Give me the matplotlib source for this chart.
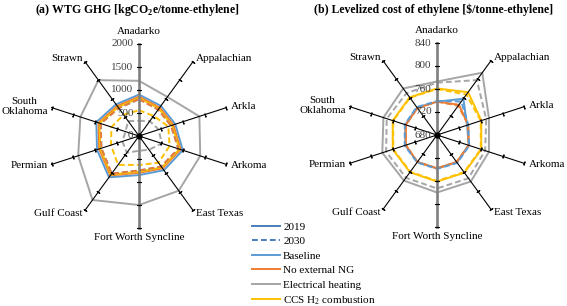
import numpy as np
import matplotlib
matplotlib.use("Agg")
import matplotlib.pyplot as plt
from matplotlib.lines import Line2D

plt.rcParams['font.family'] = ['Liberation Serif', 'DejaVu Serif']
plt.rcParams['mathtext.fontset'] = 'custom'
plt.rcParams['mathtext.rm'] = 'Liberation Serif'
plt.rcParams['mathtext.bf'] = 'Liberation Serif:bold'

regions = ['Anadarko', 'Appalachian', 'Arkla', 'Arkoma', 'East Texas',
           'Fort Worth Syncline', 'Gulf Coast', 'Permian', 'South\nOklahoma', 'Strawn']

# (a) WTG GHG, kgCO2e/tonne-ethylene
ghg_base_2019 = [900, 810, 830, 1000, 920, 850, 1110, 960, 975, 850]
ghg_nong_2019 = [855, 765, 785, 950, 870, 800, 1060, 910, 925, 805]
ghg_elec_2019 = [1200, 1050, 1380, 1400, 1470, 1500, 1720, 1390, 1340, 1500]
ghg_ccs_2019 = [825, 735, 755, 925, 845, 775, 1035, 885, 900, 775]
ghg_base_2030 = [800, 710, 730, 900, 820, 750, 1010, 860, 875, 750]
ghg_nong_2030 = [800, 710, 730, 900, 820, 750, 1010, 860, 875, 750]
ghg_elec_2030 = [330, 400, 450, 520, 370, 320, 450, 380, 310, 400]
ghg_ccs_2030 = [560, 540, 670, 700, 720, 630, 775, 640, 630, 570]

# (b) levelized cost, $/tonne-ethylene
cost_base_2019 = [738, 758, 735, 738, 739, 738, 738, 738, 738, 739]
cost_nong_2019 = [738, 745, 737, 738, 738, 738, 738, 737, 737, 738]
cost_elec_2019 = [773, 814, 775, 775, 780, 780, 778, 780, 778, 780]
cost_ccs_2019 = [761, 772, 761, 761, 761, 761, 760, 761, 761, 761]
cost_base_2030 = [739, 752, 737, 739, 740, 739, 739, 739, 739, 740]
cost_nong_2030 = [738, 743, 737, 738, 738, 738, 738, 737, 737, 738]
cost_elec_2030 = [771, 798, 770, 768, 773, 773, 772, 773, 772, 770]
cost_ccs_2030 = [760, 767, 760, 760, 760, 760, 759, 760, 760, 760]

ghg_ticks = [0, 500, 1000, 1500, 2000]
cost_ticks = [680, 720, 760, 800, 840]

c_blue = '#5B9BD5'
c_orange = '#ED7D31'
c_gray = '#A5A5A5'
c_yellow = '#FFC000'
c_year = '#4A7EBB'
dash = (3, 1.6)

fig = plt.figure(figsize=(5.67, 3.06), dpi=100)

angles = np.deg2rad(np.arange(len(regions)) * 36.0)


def radar(rect, ticks, series):
    ax = fig.add_axes(rect, projection='polar')
    ax.set_theta_zero_location('N')
    ax.set_theta_direction(-1)
    ax.set_ylim(ticks[0], ticks[-1])
    ax.grid(False)
    ax.set_xticks([])
    ax.set_yticks([])
    ax.spines['polar'].set_visible(False)
    ax.patch.set_visible(False)

    th = np.append(angles, angles[0])
    for vals, col, ls in series:
        v = np.append(vals, vals[0])
        line, = ax.plot(th, v, color=col, lw=1.4, zorder=2)
        if ls == 'dash':
            line.set_dashes(dash)

    for i, a in enumerate(angles):
        deg = np.rad2deg(a)
        if i in (0, 5):
            ax.plot([a, a], [ticks[0], ticks[-1]], color='#7F7F7F', lw=1.9,
                    zorder=4, clip_on=False)
        else:
            ax.plot([a, a], [ticks[0], ticks[-1]], color='black', lw=0.8,
                    zorder=4, clip_on=False)
        ax.plot([a] * (len(ticks) - 1), ticks[1:], ls='none',
                marker=(2, 2, 90 - deg), ms=2.8, mew=0.8, color='black',
                zorder=4, clip_on=False)

        dx, dy = np.sin(a), np.cos(a)
        ha = 'left' if dx > 0.1 else ('right' if dx < -0.1 else 'center')
        va = 'center'
        off = 3.0
        if dy > 0.9:
            va = 'bottom'
            off = 5.5
        elif dy < -0.9:
            va = 'top'
            off = 3.5
        ax.annotate(regions[i], xy=(a, ticks[-1]), xytext=(off * dx, off * dy),
                    textcoords='offset points', ha=ha, va=va, fontsize=8,
                    multialignment='center', annotation_clip=False)

    for t in ticks:
        ax.annotate(str(t), xy=(0, t), xytext=(-4, 0), textcoords='offset points',
                    ha='right', va='center', fontsize=8, color='#404040',
                    annotation_clip=False, zorder=5)
    ax.plot([0], [ticks[0]], 'o', color='black', ms=3.5, zorder=6, clip_on=False)
    return ax


ax1 = radar([47 / 567, 78 / 306, 184 / 567, 184 / 306], ghg_ticks, [
    (ghg_base_2019, c_blue, 'solid'),
    (ghg_nong_2019, c_orange, 'solid'),
    (ghg_elec_2019, c_gray, 'solid'),
    (ghg_ccs_2019, c_yellow, 'solid'),
    (ghg_base_2030, c_blue, 'dash'),
    (ghg_nong_2030, c_orange, 'dash'),
    (ghg_elec_2030, c_gray, 'dash'),
    (ghg_ccs_2030, c_yellow, 'dash'),
])

ax2 = radar([345 / 567, 79 / 306, 184 / 567, 184 / 306], cost_ticks, [
    (cost_base_2019, c_blue, 'solid'),
    (cost_nong_2019, c_orange, 'solid'),
    (cost_elec_2019, c_gray, 'solid'),
    (cost_ccs_2019, c_yellow, 'solid'),
    (cost_nong_2030, c_orange, 'dash'),
    (cost_base_2030, c_blue, 'dash'),
    (cost_elec_2030, c_gray, 'dash'),
    (cost_ccs_2030, c_yellow, 'dash'),
])

fig.text(137 / 567, 1 - 10 / 306, r'(a) WTG GHG [kgCO$_\mathbf{2}$e/tonne-ethylene]',
         ha='center', va='center', fontsize=8.5, fontweight='bold')
fig.text(434 / 567, 1 - 10 / 306, '(b) Levelized cost of ethylene [$/tonne-ethylene]',
         ha='center', va='center', fontsize=8.5, fontweight='bold')

h2030 = Line2D([], [], color=c_year, lw=1.4)
h2030.set_dashes(dash)
handles = [
    Line2D([], [], color=c_year, lw=1.4),
    h2030,
    Line2D([], [], color=c_blue, lw=1.4),
    Line2D([], [], color=c_orange, lw=1.4),
    Line2D([], [], color=c_gray, lw=1.4),
    Line2D([], [], color=c_yellow, lw=1.4),
]
labels = ['2019', '2030', 'Baseline', 'No external NG', 'Electrical heating',
          r'CCS H$_2$ combustion']
fig.legend(handles, labels, loc='upper left', bbox_to_anchor=(252 / 567, 1 - 222 / 306),
           frameon=False, fontsize=8, handlelength=2.5, handletextpad=0.3,
           labelspacing=0.42, borderpad=0, borderaxespad=0)

fig.savefig('out.png', dpi=100)
